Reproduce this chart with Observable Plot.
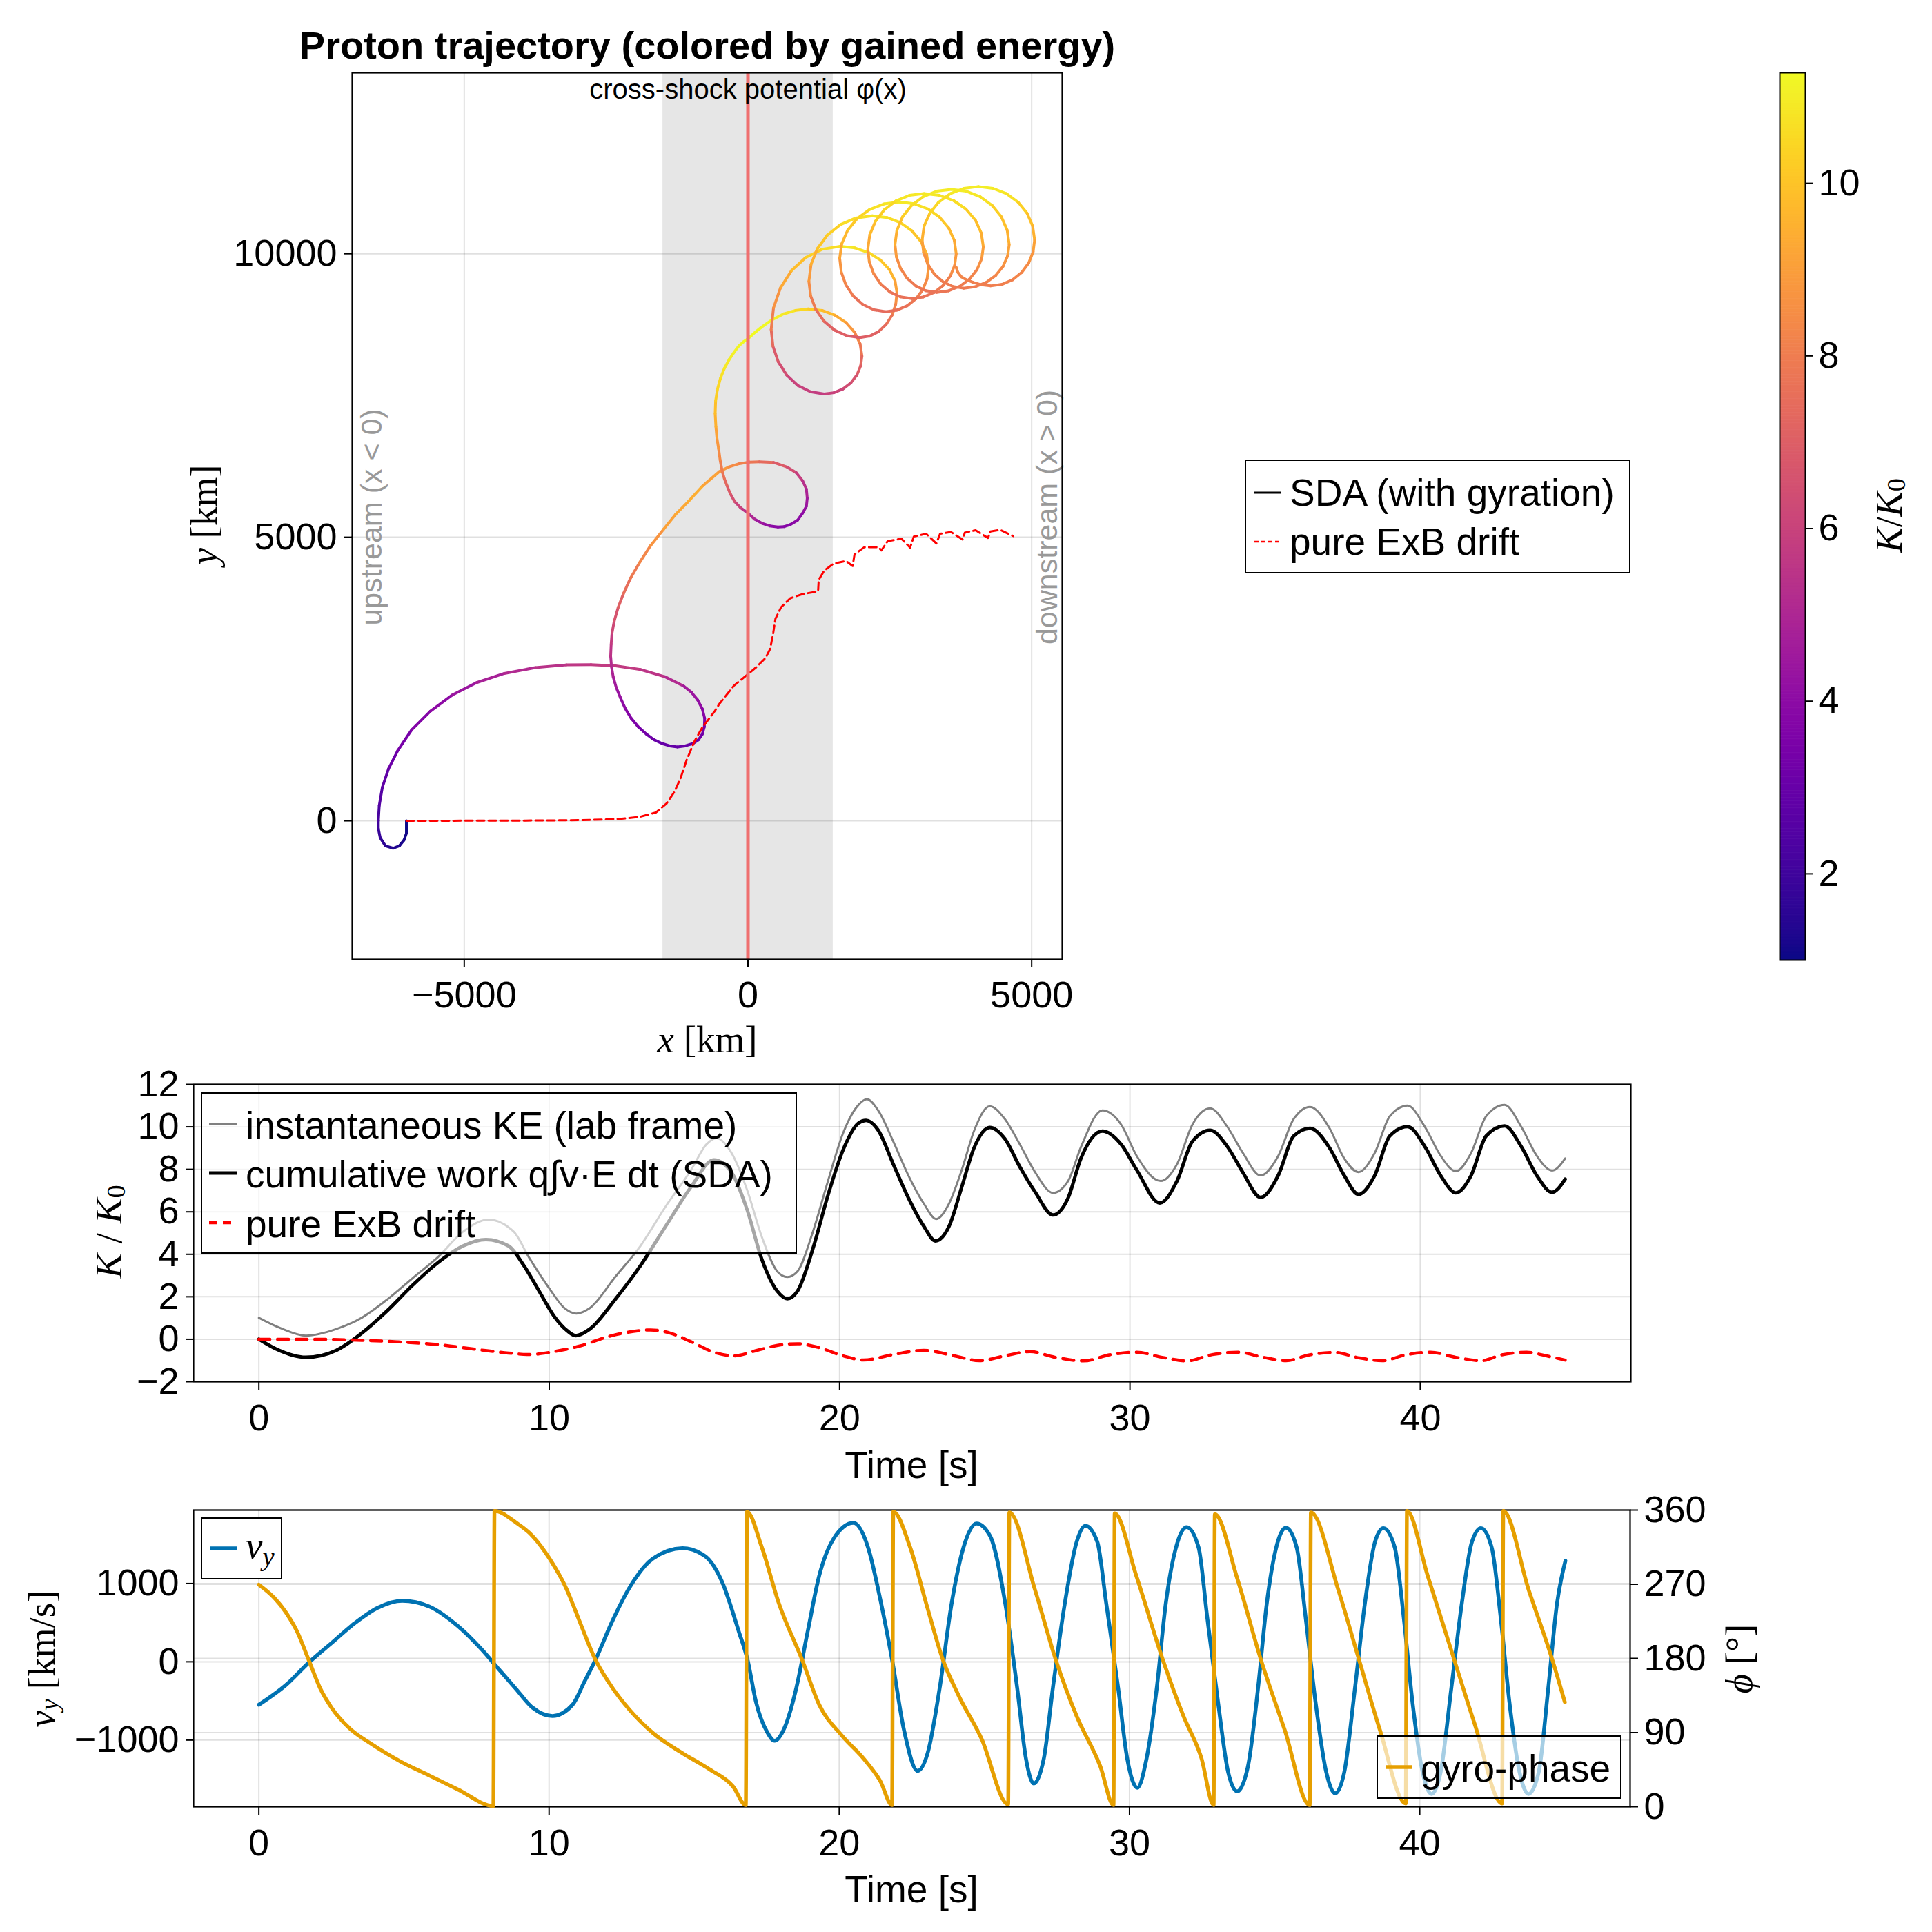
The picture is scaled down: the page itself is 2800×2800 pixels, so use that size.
<!DOCTYPE html>
<html><head><meta charset="utf-8">
<script src="https://cdn.jsdelivr.net/npm/d3@7"></script>
<script src="https://cdn.jsdelivr.net/npm/@observablehq/plot@0.6"></script>
<style>
html,body{margin:0;padding:0;background:#fff;}
#page{position:relative;width:2800px;height:2800px;background:#fff;}
#page svg{position:absolute;left:0;top:0;overflow:visible;}
</style></head><body><div id="page"></div>
<script>
// ---------------- data ----------------
// proton trajectory: [x km, y km, K/K0]
const trajectory = [
 [-6019,0,1.0],[-6019,-219,1.1],[-6062,-341,1.2],[-6144,-442,1.3],[-6253,-483,1.4],[-6389,-442,1.6],[-6481,-300,1.8],[-6514,-138,2.0],[-6514,0,2.2],[-6498,268,2.5],[-6443,592,2.8],[-6334,917,3.1],[-6171,1241,3.4],[-5926,1606,3.7],[-5599,1930,4.0],[-5218,2214,4.4],[-4782,2437,4.8],[-4292,2599,5.1],[-3747,2701,5.4],[-3203,2749,5.6],[-2767,2753,5.7],[-2331,2733,5.7],[-1895,2668,5.5],[-1460,2539,5.1],[-1133,2376,4.6],
 [-995,2265,4.35],[-888,2133,4.1],[-805,1975,3.85],[-763,1809,3.6],[-768,1660,3.4],[-806,1525,3.2],[-872,1428,3.1],[-969,1363,3.0],[-1105,1322,2.95],[-1242,1302,2.9],[-1380,1322,2.95],[-1514,1363,3.0],[-1660,1432,3.15],[-1786,1525,3.3],[-1935,1660,3.55],[-2059,1809,3.8],[-2165,1985,4.05],[-2249,2174,4.3],[-2322,2352,4.6],[-2375,2539,4.9],[-2405,2720,5.2],[-2420,2903,5.5],[-2411,3114,5.8],[-2395,3315,6.2],[-2357,3520,6.6],[-2288,3760,7.05],[-2194,4006,7.5],[-2070,4278,7.9],[-1922,4534,8.3],[-1718,4850,8.7],[-1486,5142,9.1],[-1280,5398,9.25],[-1051,5629,9.4],[-792,5912,9.1],[-506,6156,8.8],[-333,6242,8.45],[-152,6298,8.1],[25,6326,7.75],[201,6330,7.4],[450,6320,6.9],[691,6237,6.4],[850,6140,5.85],[964,5994,5.3],[1030,5850,4.9],[1045,5689,4.5],[1030,5545,4.25],[964,5426,4.0],[875,5300,3.9],[746,5223,3.8],[640,5188,3.85],[528,5182,3.9],[385,5200,4.2],[256,5243,4.5],[115,5320,5.0],[0,5426,5.5],[-130,5520,6.0],[-234,5629,6.5],[-310,5765,6.9],[-370,5912,7.3],[-415,6030,7.65],[-452,6156,8.0],[-490,6360,8.4],[-517,6561,8.8],[-548,6755,9.15],[-565,6950,9.5],[-578,7180,9.85],[-570,7405,10.2],[-538,7610,10.45],[-483,7810,10.7],[-415,7980,10.85],[-330,8135,11.0],[-245,8262,11.1],[-157,8378,11.2],[-80,8445,11.25],[0,8500,11.28],[115,8605,11.25],[235,8702,11.2],[425,8835,11.0],[626,8938,10.8],[840,9000,10.5],
 [1061,9027,10.2],[1307,8999,9.75],[1535,8915,9.3],[1731,8783,8.8],[1882,8611,8.3],[1977,8410,7.8],[2009,8195,7.3],[1986,8022,6.95],[1920,7860,6.6],[1814,7722,6.35],[1676,7616,6.1],[1515,7549,5.95],[1343,7526,5.8],[1101,7565,5.9],[876,7678,6.0],[683,7859,6.4],[534,8094,6.8],[441,8368,7.4],[409,8662,8.0],[450,9042,8.65],[572,9396,9.3],[766,9700,9.8],[1017,9933,10.3],[1311,10080,10.6],
 [1626,10130,10.9],[1885,10102,10.7],[2126,10020,10.5],[2333,9890,10.05],[2492,9721,9.6],[2592,9523,9.1],[2626,9311,8.6],[2604,9106,8.15],[2539,8916,7.7],[2435,8752,7.4],[2300,8626,7.1],[2143,8547,7.0],[1974,8520,6.9],[1741,8554,7.0],[1524,8653,7.1],[1338,8811,7.5],[1195,9017,7.9],[1105,9256,8.4],[1074,9513,8.9],[1112,9812,9.45],[1224,10091,10.0],[1401,10330,10.3],[1633,10514,10.6],[1902,10630,10.7],
 [2191,10669,10.8],[2448,10638,10.6],[2687,10547,10.4],[2892,10402,10.0],[3050,10213,9.6],[3149,9993,9.2],[3183,9757,8.8],[3157,9555,8.4],[3082,9367,8.0],[2962,9206,7.8],[2807,9082,7.6],[2625,9005,7.5],[2430,8978,7.4],[2219,9010,7.5],[2024,9104,7.6],[1855,9254,7.95],[1726,9449,8.3],[1645,9675,8.75],[1617,9919,9.2],[1653,10176,9.65],[1758,10416,10.1],[1926,10621,10.4],[2144,10779,10.7],[2397,10878,10.8],
 [2670,10912,10.9],[2929,10881,10.7],[3170,10790,10.5],[3377,10645,10.1],[3536,10456,9.7],[3636,10236,9.3],[3670,10000,8.9],[3643,9795,8.5],[3565,9605,8.1],[3441,9441,7.9],[3279,9315,7.7],[3090,9236,7.65],[2887,9209,7.6],[2687,9239,7.7],[2500,9326,7.8],[2340,9464,8.1],[2217,9645,8.4],[2139,9855,8.85],[2113,10081,9.3],[2147,10335,9.75],[2246,10572,10.2],[2403,10775,10.5],[2609,10931,10.8],[2847,11029,10.85],
 [3104,11062,10.9],[3374,11030,10.75],[3626,10936,10.6],[3842,10787,10.2],[4008,10592,9.8],[4112,10365,9.4],[4148,10122,9.0],[4120,9914,8.6],[4037,9720,8.2],[3906,9554,8.0],[3735,9427,7.8],[3536,9346,7.75],[3322,9319,7.7],[3133,9348,7.8],[2957,9432,7.9],[2805,9566,8.2],[2689,9741,8.5],[2616,9944,8.95],[2591,10162,9.4],[2625,10414,9.85],[2724,10649,10.3],[2882,10850,10.6],[3087,11005,10.9],[3326,11102,10.95],
 [3583,11135,11.0],[3847,11102,10.85],[4094,11005,10.7],[4305,10850,10.3],[4467,10649,9.9],[4569,10414,9.5],[4604,10162,9.1],[4577,9963,8.75],[4496,9777,8.4],[4368,9618,8.2],[4202,9495,8.0],[4008,9418,7.95],[3800,9392,7.9],[3611,9421,7.95],[3435,9506,8.0],[3284,9641,8.3],[3168,9818,8.6],[3095,10023,9.05],[3070,10243,9.5],[3104,10487,9.95],[3205,10714,10.4],[3360,10908,10.65],[3566,11058,10.9],[3804,11152,10.95],
 [4061,11184,11.0],[4318,11152,10.85],[4557,11058,10.7],[4762,10908,10.3],[4919,10714,9.9],[5018,10487,9.5],[5052,10243,9.1],[5026,10033,8.75],[4948,9838,8.4],[4825,9670,8.25],[4665,9541,8.1],[4478,9460,8.05],[4278,9432,8.0],[4120,9450,8.05],[3974,9493,8.1],[3850,9540,8.2],[3757,9594,8.3],[3700,9670,8.4],[3670,9757,8.5]
];
// pure ExB drift path: [x km, y km]
const exbPath = [[-6019,0],[-3500,6],[-2767,16],[-2222,36],[-1895,73],[-1623,146],[-1432,308],[-1296,511],[-1187,754],[-1078,1079],[-942,1403],[-806,1646],[-751,1715],[-588,1930],[-506,2060],[-250,2380],[0,2587],[147,2709],[310,2871],[392,3033],[446,3317],[484,3560],[582,3763],[746,3925],[964,3998],[1236,4047],[1247,4250],[1345,4412],[1508,4534],[1726,4582],[1845,4493],[1878,4696],[2052,4826],[2297,4826],[2352,4769],[2461,4931],[2706,4972],[2858,4818],[2923,5012],[3141,5061],[3321,4891],[3386,5061],[3577,5093],[3783,4959],[3822,5081],[4012,5122],[4230,4988],[4273,5101],[4447,5130],[4676,5020]];
const shockRamp = [-1500, 1500];
const shockX = [0];
const xLimTop = [-6974, 5539], yLimTop = [-2445, 13190];
const xTicksTop = [-5000, 0, 5000], yTicksTop = [0, 5000, 10000];
const colorLim = [1.0, 11.28];
const cbTicks = [2, 4, 6, 8, 10];

// energy time series: [t s, K/K0]
const keLab = [[0,1.01],[0.75,0.52],[1.62,0.17],[2.67,0.48],[3.54,1.01],[4.42,1.87],[5.29,2.87],[6.16,3.86],[7.03,5.06],[7.91,5.63],[8.78,5.06],[9.3,3.86],[10.0,2.4],[10.52,1.47],[10.93,1.21],[11.4,1.47],[12.27,2.93],[13.14,4.39],[14.01,6.25],[14.89,7.98],[15.41,9.17],[15.76,9.47],[16.28,8.77],[16.81,7.05],[17.33,4.79],[17.85,3.2],[18.2,2.93],[18.55,3.2],[19.08,5.06],[19.6,7.45],[20.12,9.7],[20.65,11.03],[20.94,11.3],[21.33,10.77],[21.85,9.31],[22.37,7.71],[22.9,6.39],[23.33,5.66],[23.77,6.39],[24.21,7.98],[24.64,9.84],[25.17,10.97],[25.69,10.37],[26.21,9.17],[26.74,7.85],[27.35,6.89],[27.87,7.45],[28.31,9.04],[29.05,10.77],[29.7,10.1],[30.23,8.64],[31.06,7.45],[31.62,8.24],[32.15,10.1],[32.76,10.87],[33.37,9.97],[33.89,8.77],[34.5,7.71],[35.11,8.64],[35.64,10.37],[36.2,10.94],[36.86,9.97],[37.38,8.51],[37.87,7.87],[38.43,8.77],[38.95,10.5],[39.56,11.0],[40.17,9.97],[40.7,8.64],[41.22,7.91],[41.75,8.77],[42.27,10.5],[42.9,11.03],[43.49,9.97],[44.01,8.64],[44.54,7.94],[44.99,8.51]];
const workSDA = [[0,0],[0.58,-0.45],[1.62,-0.85],[2.67,-0.52],[3.54,0.28],[4.42,1.34],[5.29,2.54],[6.16,3.6],[7.03,4.39],[7.82,4.69],[8.6,4.39],[9.13,3.46],[9.65,2.27],[10.17,1.08],[10.61,0.41],[10.91,0.17],[11.4,0.48],[12.27,1.87],[13.14,3.46],[14.01,5.32],[14.89,7.18],[15.67,8.44],[16.28,7.85],[16.81,6.12],[17.33,3.73],[17.85,2.27],[18.2,1.91],[18.55,2.27],[19.08,4.26],[19.6,6.78],[20.12,8.91],[20.65,10.17],[20.91,10.3],[21.33,9.84],[21.85,8.24],[22.37,6.65],[22.9,5.32],[23.3,4.63],[23.77,5.32],[24.21,7.18],[24.64,9.04],[25.17,9.97],[25.69,9.44],[26.21,8.11],[26.74,6.92],[27.35,5.85],[27.87,6.65],[28.31,8.51],[29.05,9.8],[29.7,9.17],[30.23,7.98],[31.03,6.41],[31.62,7.45],[32.15,9.31],[32.76,9.84],[33.37,9.04],[33.89,7.85],[34.5,6.68],[35.11,7.72],[35.64,9.57],[36.2,9.93],[36.86,9.04],[37.38,7.71],[37.87,6.82],[38.43,7.71],[38.95,9.57],[39.56,10.01],[40.17,9.04],[40.7,7.71],[41.22,6.89],[41.75,7.71],[42.27,9.57],[42.9,10.04],[43.49,9.04],[44.01,7.71],[44.54,6.92],[44.99,7.54]];
const workExB = [[0,0],[1.8,0],[3.54,-0.05],[4.76,-0.12],[6.16,-0.25],[7.56,-0.49],[8.6,-0.65],[9.3,-0.72],[10.17,-0.58],[11.05,-0.32],[12.1,0.15],[13.14,0.41],[13.49,0.44],[14.19,0.28],[14.89,-0.12],[15.76,-0.65],[16.37,-0.78],[17.16,-0.52],[18.03,-0.25],[18.55,-0.21],[19.25,-0.38],[20.12,-0.78],[20.82,-0.98],[21.85,-0.72],[22.9,-0.52],[23.95,-0.78],[24.82,-1.01],[25.69,-0.78],[26.56,-0.58],[27.43,-0.85],[28.39,-1.02],[29.35,-0.72],[30.23,-0.61],[31.1,-0.85],[31.97,-1.02],[32.84,-0.72],[33.72,-0.61],[34.59,-0.85],[35.38,-1.01],[36.16,-0.74],[37.03,-0.62],[37.91,-0.88],[38.69,-1.01],[39.48,-0.74],[40.35,-0.61],[41.22,-0.85],[42.09,-1.01],[42.79,-0.74],[43.66,-0.61],[44.4,-0.8],[44.99,-0.98]];
const tLim = [-2.25, 47.25];
const tTicks = [0, 10, 20, 30, 40];
const kLim = [-2, 12];
const kTicks = [-2, 0, 2, 4, 6, 8, 10, 12];

// v_y [km/s] and gyro-phase [deg]: [t s, value]
const vy = [[0,-549],[0.93,-298],[1.72,-11],[2.51,241],[3.3,492],[4.09,689],[4.94,779],[5.87,707],[6.86,456],[7.65,169],[8.24,-83],[8.83,-334],[9.43,-585],[10.12,-693],[10.81,-549],[11.21,-262],[11.6,25],[12.19,528],[12.79,959],[13.58,1318],[14.6,1451],[15.36,1354],[15.95,1031],[16.54,384],[16.84,25],[17.13,-513],[17.53,-908],[17.77,-1009],[18.12,-837],[18.52,-334],[18.91,384],[19.31,1102],[19.8,1569],[20.49,1774],[21.0,1450],[21.4,820],[21.82,25],[22.23,-873],[22.7,-1393],[23.05,-1160],[23.46,-334],[23.87,743],[24.28,1461],[24.73,1767],[25.2,1605],[25.72,743],[26.13,-334],[26.43,-1232],[26.7,-1555],[27.05,-1232],[27.36,-334],[27.77,743],[28.18,1533],[28.48,1738],[28.89,1533],[29.2,743],[29.61,-334],[29.92,-1232],[30.27,-1609],[30.59,-1232],[30.94,-334],[31.25,743],[31.66,1533],[31.97,1720],[32.38,1461],[32.68,564],[33.05,-513],[33.4,-1411],[33.71,-1655],[34.08,-1339],[34.43,-334],[34.73,743],[35.14,1569],[35.39,1713],[35.76,1461],[36.07,564],[36.41,-513],[36.78,-1411],[37.09,-1680],[37.4,-1411],[37.77,-334],[38.11,743],[38.46,1533],[38.75,1706],[39.14,1461],[39.45,564],[39.75,-513],[40.1,-1411],[40.41,-1688],[40.72,-1411],[41.09,-334],[41.45,743],[41.8,1533],[42.11,1706],[42.48,1461],[42.79,564],[43.09,-513],[43.44,-1411],[43.75,-1688],[44.1,-1411],[44.43,-334],[44.73,743],[45.02,1289]];
const gyroPhase = [[0,269.5],[0.53,253.5],[0.93,236],[1.32,212.5],[1.72,178],[2.11,144],[2.51,120],[3.1,96],[3.89,76],[4.88,55],[5.87,38],[6.86,21],[8.08,1],[8.12,359],[8.83,345.7],[9.43,328.6],[10.02,301],[10.61,263.7],[11.0,229.6],[11.6,178.3],[12.19,144],[12.79,117],[13.58,89.5],[14.57,65.6],[15.55,45],[16.34,24.6],[16.78,2],[16.82,358],[17.33,315],[17.92,246.6],[18.72,178.3],[19.31,123.7],[20.1,86],[20.85,58],[21.41,31.4],[21.82,2],[21.86,358],[22.44,315],[23.05,239.8],[23.57,178.3],[24.08,137.3],[24.9,82.7],[25.82,3],[25.86,357],[26.74,263.7],[27.46,178.3],[28.18,110],[29.0,48.5],[29.45,2],[29.49,356],[30.23,280.8],[31.15,178.3],[31.86,110],[32.48,58.8],[32.9,2],[32.94,355],[33.71,277.4],[34.53,178.3],[35.35,93],[36.21,2],[36.25,357],[37.19,263.7],[37.91,178.3],[38.63,93],[39.52,4],[39.56,359],[40.27,280.8],[41.19,178.3],[41.9,99.7],[42.84,4],[42.88,359],[43.75,263.7],[44.57,178.3],[45.0,127]];
const vyLim = [-1852, 1938];
const vyTicks = [-1000, 0, 1000];
const phiLim = [0, 360];
const phiTicks = [0, 90, 180, 270, 360];

// ---------------- rendering ----------------
const SANS = '"Liberation Sans", Arial, Helvetica, sans-serif';
const SERIF = '"Liberation Serif", "DejaVu Serif", serif';
const baseStyle = {fontFamily: SANS, fontSize: "54px", background: "transparent", overflow: "visible", color: "black"};
const fmtNum = d => (d < 0 ? "\u2212" : "") + Math.abs(d);
const gridStyle = {stroke: "#000", strokeOpacity: 0.12, strokeWidth: 2};
const page = document.getElementById("page");
const W = 2800, H = 2800;

// --- top panel: trajectory
const topPlot = Plot.plot({
  width: W, height: H,
  marginLeft: 510, marginRight: W - 1539, marginTop: 105, marginBottom: H - 1390,
  style: baseStyle,
  x: {domain: xLimTop, ticks: xTicksTop, tickFormat: fmtNum, tickSize: 11, tickPadding: 20, label: null},
  y: {domain: yLimTop, ticks: yTicksTop, tickFormat: fmtNum, tickSize: 11, tickPadding: 11, label: null},
  color: {type: "linear", scheme: "plasma", domain: colorLim, clamp: true},
  marks: [
    Plot.rect([shockRamp], {x1: d => d[0], x2: d => d[1], fill: "#e6e6e6"}),
    Plot.ruleX(xTicksTop, gridStyle),
    Plot.ruleY(yTicksTop, gridStyle),
    Plot.line(trajectory, {x: d => d[0], y: d => d[1], stroke: d => d[2], z: null, strokeWidth: 4}),
    Plot.line(exbPath, {x: d => d[0], y: d => d[1], stroke: "#ff0000", strokeWidth: 3, strokeDasharray: "11,6"}),
    Plot.ruleX(shockX, {stroke: "#ef6f6f", strokeWidth: 5}),
    Plot.text(["cross-shock potential \u03c6(x)"], {x: 0, frameAnchor: "top", dy: 37, lineAnchor: "bottom", fontSize: 40, fill: "#000"}),
    Plot.text(["upstream (x < 0)"], {frameAnchor: "left", y: 5355, dx: 29, rotate: -90, lineAnchor: "middle", textAnchor: "middle", fontSize: 43, fill: "#999"}),
    Plot.text(["downstream (x > 0)"], {frameAnchor: "right", y: 5355, dx: -21, rotate: -90, lineAnchor: "middle", textAnchor: "middle", fontSize: 43, fill: "#999"}),
    Plot.frame({stroke: "#000", strokeWidth: 2.2})
  ]
});
page.appendChild(topPlot);

// --- colorbar
const ramp = d3.range(colorLim[0], colorLim[1], 0.02);
const cbPlot = Plot.plot({
  width: W, height: H,
  marginLeft: 2579, marginRight: W - 2616, marginTop: 105, marginBottom: H - 1391,
  style: baseStyle,
  x: {domain: [0, 1], axis: null},
  y: {domain: colorLim, axis: "right", ticks: cbTicks, tickSize: 11, tickPadding: 8, label: null},
  color: {type: "linear", scheme: "plasma", domain: colorLim, clamp: true},
  marks: [
    Plot.rect(ramp, {x1: 0, x2: 1, y1: d => d, y2: d => Math.min(d + 0.025, colorLim[1]), fill: d => d}),
    Plot.frame({stroke: "#000", strokeWidth: 2})
  ]
});
page.appendChild(cbPlot);

// --- middle panel: energies
const midPlot = Plot.plot({
  width: W, height: H,
  marginLeft: 280, marginRight: W - 2363, marginTop: 1571, marginBottom: H - 2002,
  style: baseStyle,
  x: {domain: tLim, ticks: tTicks, tickFormat: fmtNum, tickSize: 12, tickPadding: 20, label: null},
  y: {domain: kLim, ticks: kTicks, tickFormat: fmtNum, tickSize: 11, tickPadding: 10, label: null},
  marks: [
    Plot.ruleX(tTicks, gridStyle),
    Plot.ruleY(kTicks, gridStyle),
    Plot.line(keLab, {x: d => d[0], y: d => d[1], stroke: "#808080", strokeWidth: 3, curve: "monotone-x"}),
    Plot.line(workSDA, {x: d => d[0], y: d => d[1], stroke: "#000", strokeWidth: 5, curve: "monotone-x"}),
    Plot.line(workExB, {x: d => d[0], y: d => d[1], stroke: "#ff0000", strokeWidth: 4.5, strokeDasharray: "16,11", curve: "monotone-x"}),
    Plot.frame({stroke: "#000", strokeWidth: 2.2})
  ]
});
page.appendChild(midPlot);

// --- bottom panel: v_y (left axis)
const botPlotA = Plot.plot({
  width: W, height: H,
  marginLeft: 280, marginRight: W - 2362, marginTop: 2188, marginBottom: H - 2618,
  style: baseStyle,
  x: {domain: tLim, ticks: tTicks, tickFormat: fmtNum, tickSize: 12, tickPadding: 20, label: null},
  y: {domain: vyLim, ticks: vyTicks, tickFormat: fmtNum, tickSize: 11, tickPadding: 10, label: null},
  marks: [
    Plot.ruleX(tTicks, gridStyle),
    Plot.ruleY(vyTicks, gridStyle),
    Plot.line(vy, {x: d => d[0], y: d => d[1], stroke: "#0072b2", strokeWidth: 5.5, curve: "monotone-x"}),
    Plot.frame({stroke: "#000", strokeWidth: 2.2})
  ]
});
page.appendChild(botPlotA);

// --- bottom panel: gyro-phase (right axis)
const botPlotB = Plot.plot({
  width: W, height: H,
  marginLeft: 280, marginRight: W - 2362, marginTop: 2188, marginBottom: H - 2618,
  style: baseStyle,
  x: {domain: tLim, axis: null},
  y: {domain: phiLim, axis: "right", ticks: phiTicks, tickSize: 11, tickPadding: 9, label: null},
  marks: [
    Plot.ruleY(phiTicks, gridStyle),
    Plot.line(gyroPhase, {x: d => d[0], y: d => d[1], stroke: "#e69f00", strokeWidth: 5.5, curve: "monotone-x"})
  ]
});
page.appendChild(botPlotB);

// thicker tick marks
d3.select(page).selectAll('g[aria-label$="tick"]').attr("stroke-width", 2);

// ---------------- overlay: titles, labels, legends ----------------
const ov = d3.select(page).append("svg").attr("width", W).attr("height", H).attr("viewBox", `0 0 ${W} ${H}`);

function label(x, y, parts, o = {}) {
  const size = o.size || 55;
  const t = ov.append("text")
    .attr("transform", `translate(${x},${y}) rotate(${o.rotate || 0})`)
    .attr("text-anchor", o.anchor || "middle")
    .attr("font-family", o.family || SANS)
    .attr("font-size", size)
    .attr("font-weight", o.weight || "normal")
    .attr("fill", o.fill || "#000");
  if (o.baseline) t.attr("dominant-baseline", o.baseline);
  for (const p of parts) {
    const s = t.append("tspan").text(p.t);
    if (p.i) s.attr("font-style", "italic");
    if (p.sub) s.attr("font-size", size * 0.7).attr("dy", size * 0.2);
    if (p.up) s.attr("dy", -size * 0.2);
  }
  return t;
}
function box(x0, y0, x1, y1, op) {
  ov.append("rect").attr("x", x0).attr("y", y0).attr("width", x1 - x0).attr("height", y1 - y0)
    .attr("fill", "#fff").attr("fill-opacity", op).attr("stroke", "#000").attr("stroke-width", 2);
}
function sample(x0, x1, y, stroke, w, dash) {
  const l = ov.append("line").attr("x1", x0).attr("x2", x1).attr("y1", y).attr("y2", y)
    .attr("stroke", stroke).attr("stroke-width", w);
  if (dash) l.attr("stroke-dasharray", dash);
}

// title
label(1025, 85, [{t: "Proton trajectory (colored by gained energy)"}], {size: 56, weight: "bold"});

// top panel axis labels
label(1025, 1525, [{t: "x", i: true}, {t: " [km]"}], {family: SERIF});
label(295, 746, [{t: "y", i: true}, {t: " [km]"}], {family: SERIF, rotate: -90, baseline: "central"});
// colorbar label
label(2737, 747, [{t: "K", i: true}, {t: "/"}, {t: "K", i: true}, {t: "0", sub: true}], {family: SERIF, rotate: -90, baseline: "central"});

// middle panel labels
label(1321, 2142, [{t: "Time [s]"}]);
label(157, 1785, [{t: "K", i: true}, {t: " / "}, {t: "K", i: true}, {t: "0", sub: true}], {family: SERIF, rotate: -90, baseline: "central"});

// bottom panel labels
label(1321, 2757, [{t: "Time [s]"}]);
label(60, 2404, [{t: "v", i: true}, {t: "y", i: true, sub: true}, {t: " [km/s]", up: true}], {family: SERIF, rotate: -90, baseline: "central"});
label(2520, 2404, [{t: "\u03d5", i: true}, {t: " [\u00b0]"}], {family: SERIF, rotate: -90, baseline: "central"});

// top legend
box(1805, 667, 2362, 830, 1);
sample(1818, 1857, 714, "#000", 3);
label(1869, 714, [{t: "SDA (with gyration)"}], {anchor: "start", baseline: "central"});
sample(1818, 1857, 785, "#ff0000", 2.5, "6,4");
label(1869, 785, [{t: "pure ExB drift"}], {anchor: "start", baseline: "central"});

// middle legend
box(292, 1584, 1154, 1816, 0.65);
sample(303, 344, 1629, "#808080", 3);
label(356, 1631, [{t: "instantaneous KE (lab frame)"}], {anchor: "start", baseline: "central"});
sample(303, 344, 1700, "#000", 5);
label(356, 1702, [{t: "cumulative work q\u222bv\u00b7E dt (SDA)"}], {anchor: "start", baseline: "central"});
sample(303, 344, 1772, "#ff0000", 4.5, "12,8");
label(356, 1774, [{t: "pure ExB drift"}], {anchor: "start", baseline: "central"});

// bottom legends
box(292, 2200, 408, 2288, 1);
sample(305, 344, 2244, "#0072b2", 5.5);
label(356, 2258, [{t: "v", i: true}, {t: "y", i: true, sub: true}], {anchor: "start", family: SERIF});
box(1996, 2516, 2349, 2606, 0.65);
sample(2008, 2046, 2561, "#e69f00", 5.5);
label(2059, 2563, [{t: "gyro-phase"}], {anchor: "start", baseline: "central"});
</script></body></html>
